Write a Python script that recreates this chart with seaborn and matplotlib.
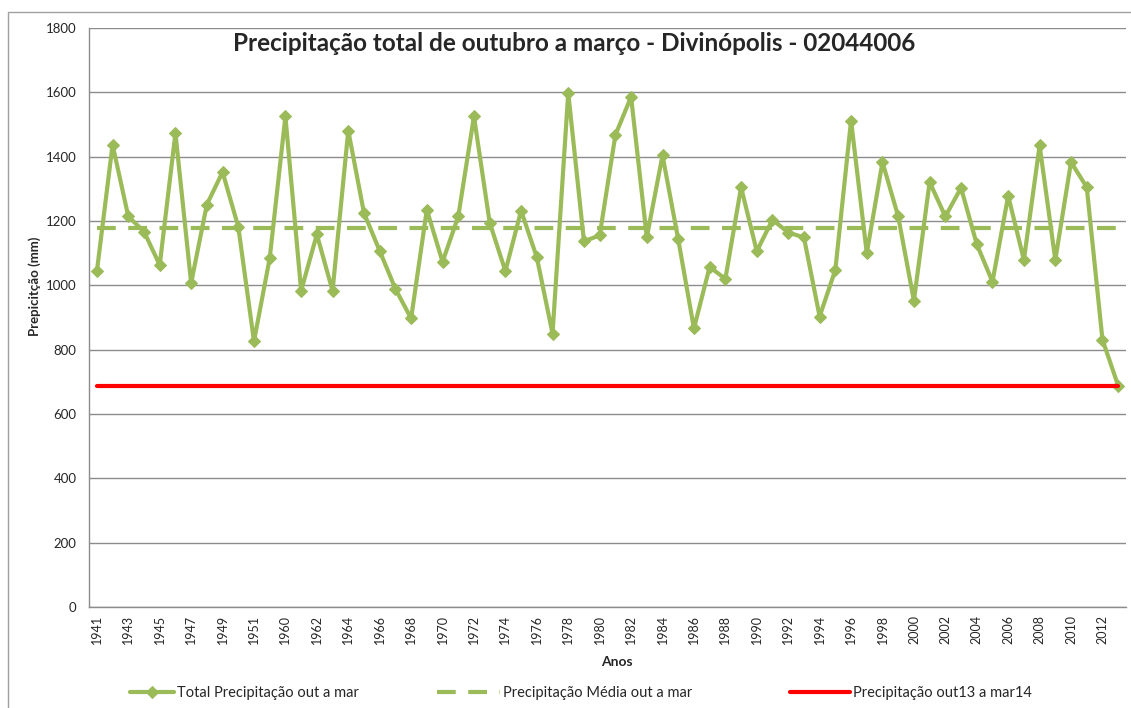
import matplotlib
matplotlib.use("Agg")
import matplotlib.pyplot as plt
from matplotlib.patches import Rectangle
import numpy as np
import pandas as pd
import seaborn as sns

# %% data
years = (
    [str(y) for y in range(1941, 1952)]
    + ["1959"]
    + [str(y) for y in range(1960, 2014)]
)
total = [
    1043, 1437, 1214, 1167, 1063, 1473, 1007, 1251, 1352, 1182, 826,
    1084, 1525, 983, 1158, 983, 1481, 1225, 1107, 989, 897, 1235,
    1073, 1214, 1525, 1195, 1044, 1232, 1087, 850, 1598, 1137, 1155,
    1467, 1586, 1149, 1404, 1143, 866, 1057, 1020, 1305, 1106, 1204,
    1164, 1149, 903, 1048, 1512, 1100, 1383, 1214, 952, 1321, 1214,
    1303, 1128, 1011, 1278, 1079, 1435, 1079, 1383, 1305, 831, 688,
]
media = 1177
out13_mar14 = 688

df = pd.DataFrame({"ano": years, "total": total})
df["idx"] = np.arange(len(df))
df["media"] = media
df["atual"] = out13_mar14

# %% plot
sns.set_theme(style="white")
plt.rcParams["font.family"] = ["Lato", "DejaVu Sans"]

green = "#9BBB59"
red = "#FF0000"

fig = plt.figure(figsize=(11.31, 7.08), dpi=100)
ax = fig.add_axes([0.0787, 0.1427, 0.9169, 0.8178])

sns.lineplot(data=df, x="idx", y="total", ax=ax, color=green, linewidth=3,
             marker="D", markersize=6.5, markeredgecolor=green,
             label="Total Precipitação out a mar", legend=False)
sns.lineplot(data=df, x="idx", y="media", ax=ax, color=green, linewidth=3,
             linestyle=(0, (4.5, 3)), label="Precipitação Média out a mar",
             legend=False)
sns.lineplot(data=df, x="idx", y="atual", ax=ax, color=red, linewidth=3,
             label="Precipitação out13 a mar14", legend=False)

ax.set_xlim(-0.5, len(df) - 0.5)
ax.set_ylim(0, 1800)
ax.set_yticks(range(0, 1801, 200))
ax.yaxis.grid(True, color="#8C8C8C", linewidth=1)
ax.set_axisbelow(True)

ax.set_xticks(df["idx"][::2])
ax.set_xticklabels(df["ano"][::2], rotation=90)
ax.set_xticks(np.arange(-0.5, len(df)), minor=True)
ax.tick_params(axis="x", which="major", length=0, labelsize=9, pad=6)
ax.tick_params(axis="x", which="minor", length=4, color="#8C8C8C",
               direction="out")
ax.tick_params(axis="y", length=5, color="#8C8C8C", direction="out",
               labelsize=9.5, pad=4)

for s in ["top", "right"]:
    ax.spines[s].set_visible(False)
for s in ["left", "bottom"]:
    ax.spines[s].set_color("#8C8C8C")
    ax.spines[s].set_linewidth(1)

ax.set_xlabel("")
ax.set_ylabel("")
fig.text(0.031, 0.595, "Prepicitção (mm)", rotation=90, ha="center",
         va="center", fontsize=9.5, fontweight="bold")
fig.text(0.545, 0.065, "Anos", ha="center", va="center", fontsize=10,
         fontweight="bold")
fig.text(0.508, 0.938, "Precipitação total de outubro a março - Divinópolis - 02044006",
         ha="center", va="center", fontsize=17.5, fontweight="bold")

# one legend per entry, placed like the original
handles, labels = ax.get_legend_handles_labels()
starts = [130, 437, 790]
hlens = [3.0, 4.3, 4.1]
for h, l, x0, hl in zip(handles, labels, starts, hlens):
    fig.legend([h], [l], loc="center left", bbox_to_anchor=(x0 / 1131, 0.021),
               frameon=False, fontsize=10.5, handlelength=hl,
               handletextpad=0.25, borderpad=0, borderaxespad=0)

fig.patches.append(Rectangle((8 / 1131, -0.1), 1.2, (708 - 12) / 708 + 0.1,
                             transform=fig.transFigure, fill=False,
                             edgecolor="#A0A0A0", linewidth=1))

fig.savefig("out.png", dpi=100)
